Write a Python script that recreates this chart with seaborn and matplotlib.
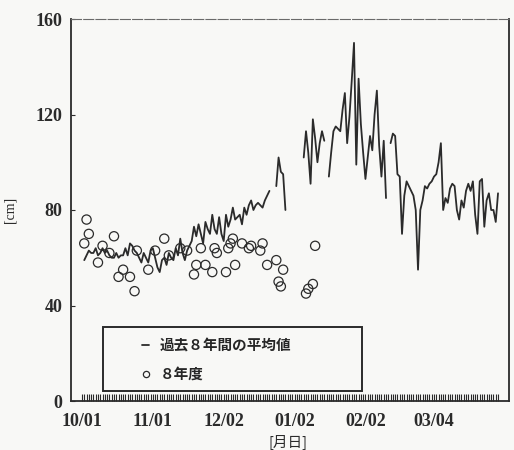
import numpy as np
import pandas as pd
import matplotlib
matplotlib.use('Agg')
import matplotlib.pyplot as plt
import matplotlib.dates as mdates
from matplotlib.lines import Line2D
from matplotlib.patches import Rectangle
from matplotlib.ticker import FixedLocator
import seaborn as sns

nan = np.nan

# past 8-year mean snow depth, one value per day from 1996-10-01 (nan = no data)
avg_cm = [
    nan, 59, 61, 63, 62, 62, 64, 61, 62, 64,
    62, 63, 61, 60, 60, 62, 60, 61, 61, 64,
    61, 66, 65, 63, 62, 60, 58, 62, 60, 58,
    63, 64, 60, 56, 54, 59, 60, 57, 62, 60,
    59, 64, 61, 68, 62, 59, 63, 65, 67, 73,
    69, 74, 70, 66, 75, 72, 70, 78, 72, 70,
    77, 70, 67, 78, 73, 76, 81, 76, 77, 78,
    74, 81, 78, 82, 84, 80, 82, 83, 82, 81,
    84, 86, 88, nan, nan, 90, 102, 96, 95, 80,
    nan, nan, nan, nan, nan, nan, nan, 102, 113, 104,
    91, 118, 110, 100, 108, 113, 109, nan, 94, 104,
    113, 115, 114, 113, 122, 129, 108, 119, 134, 150,
    99, 135, 116, 104, 93, 102, 111, 105, 120, 130,
    107, 94, 109, 85, nan, 108, 112, 111, 95, 94,
    70, 86, 92, 90, 88, 86, 80, 55, 80, 84,
    90, 89, 91, 92, 94, 95, 100, 108, 80, 85,
    83, 89, 91, 90, 80, 76, 84, 81, 88, 91,
    88, 92, 78, 70, 92, 93, 73, 84, 87, 80,
    80, 75, 87,
]

# FY8 observations (days after 10/01, snow depth)
obs_day = [1, 2, 3, 7, 9, 12, 14, 16, 18, 21, 23, 24, 29, 32, 36, 38, 43, 46,
           49, 50, 52, 54, 57, 58, 59, 63, 64, 65, 66, 67, 70, 73, 74, 78, 79,
           81, 85, 86, 87, 88, 98, 99, 101, 102]
obs_cm = [66, 76, 70, 58, 65, 62, 69, 52, 55, 52, 46, 63, 55, 63, 68, 61, 64, 63,
          53, 57, 64, 57, 54, 64, 62, 54, 64, 66, 68, 57, 66, 64, 65, 63, 66,
          57, 59, 50, 48, 55, 45, 47, 49, 65]

tick_dates = ['1996-10-01', '1996-11-01', '1996-12-02', '1997-01-02', '1997-02-02', '1997-03-04']
y_ticks = [0, 40, 80, 120, 160]

start = pd.Timestamp('1996-10-01')
days = pd.date_range(start, periods=len(avg_cm), freq='D')
line_df = pd.DataFrame({'date': days, 'cm': avg_cm})
line_df['seg'] = line_df['cm'].isna().cumsum()
line_df = line_df.dropna()
obs_df = pd.DataFrame({'date': start + pd.to_timedelta(obs_day, unit='D'), 'cm': obs_cm})

sns.set_style('white')
plt.rcParams['font.family'] = ['Liberation Serif', 'DejaVu Sans']
ink = '#2b2b2b'
bg = '#f8f8f6'

fig = plt.figure(figsize=(5.14, 4.5), dpi=100, facecolor=bg)
ax = fig.add_axes([71 / 514, 1 - 401 / 450, 438 / 514, 382 / 450], facecolor=bg)

sns.lineplot(data=line_df, x='date', y='cm', units='seg', estimator=None,
             color=ink, lw=1.3, ax=ax)
sns.scatterplot(data=obs_df, x='date', y='cm', marker='o', s=44,
                facecolor='none', edgecolor=ink, linewidth=0.9, ax=ax, zorder=3)

ax.set_ylim(0, 160)
ax.set_xlim(start - pd.Timedelta(days=4.8), start + pd.Timedelta(days=186.8))
ax.set_yticks(y_ticks)
ax.set_yticklabels([str(v) for v in y_ticks])
ax.set_xticks(pd.to_datetime(tick_dates))
ax.xaxis.set_major_formatter(mdates.DateFormatter('%m/%d'))
ax.xaxis.set_minor_locator(FixedLocator(mdates.date2num(days)))

ax.tick_params(axis='x', which='both', bottom=True, direction='in', length=5,
               width=0.8, color=ink, pad=9, labelsize=13, labelcolor=ink)
ax.tick_params(axis='y', left=True, direction='in', length=3, width=0.8,
               color=ink, pad=6, labelsize=13, labelcolor=ink)
for lab in ax.get_xticklabels() + ax.get_yticklabels():
    lab.set_fontweight('bold')

for side in ['left', 'bottom', 'right']:
    ax.spines[side].set_color(ink)
    ax.spines[side].set_linewidth(1.3)
ax.spines['top'].set_color('#6a6a6a')
ax.spines['top'].set_linewidth(0.8)
ax.spines['top'].set_linestyle((0, (9, 2)))

ax.set_xlabel('[月日]', family=['Noto Sans CJK JP', 'DejaVu Sans'], fontsize=10.5,
              color=ink, va='center')
ax.xaxis.set_label_coords(0.495, -0.108)
ax.set_ylabel('[cm]', fontsize=10, color=ink, labelpad=14)

# legend frame and entries
ax.add_patch(Rectangle((0.073, 0.026), 0.591, 0.168, transform=ax.transAxes,
                       fill=False, edgecolor=ink, lw=1.4, zorder=4))
handles = [Line2D([], [], color=ink, lw=1.3),
           Line2D([], [], color=ink, ls='none', marker='o', ms=4.5,
                  mfc='none', mew=0.9)]
ax.legend(handles, ['過去８年間の平均値', '８年度'], loc='upper left',
          bbox_to_anchor=(0.146, 0.186), frameon=False, borderpad=0,
          handlelength=0.45, handletextpad=0.75, labelspacing=0.85,
          prop={'family': ['Noto Sans CJK JP'], 'size': 10.5, 'weight': 'bold'})

fig.savefig('out.png', dpi=100, facecolor=bg)
